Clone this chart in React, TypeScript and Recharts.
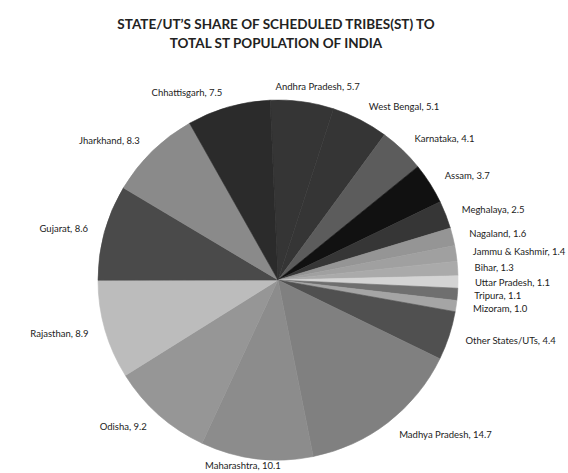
import React from "react"
import { PieChart, Pie, Cell } from "recharts"

const states = [
  "Andhra Pradesh",
  "West Bengal",
  "Karnataka",
  "Assam",
  "Meghalaya",
  "Nagaland",
  "Jammu & Kashmir",
  "Bihar",
  "Uttar Pradesh",
  "Tripura",
  "Mizoram",
  "Other States/UTs",
  "Madhya Pradesh",
  "Maharashtra",
  "Odisha",
  "Rajasthan",
  "Gujarat",
  "Jharkhand",
  "Chhattisgarh",
]

const shares = [5.7, 5.1, 4.1, 3.7, 2.5, 1.6, 1.4, 1.3, 1.1, 1.1, 1.0, 4.4, 14.7, 10.1, 9.2, 8.9, 8.6, 8.3, 7.5]

const shades = [
  "#353535", "#353535", "#5c5c5c", "#111111", "#363636", "#959595", "#a0a0a0", "#aaaaaa", "#d4d4d4",
  "#6f6f6f", "#a5a5a5", "#505050", "#808080", "#8c8c8c", "#969696", "#bcbcbc", "#4a4a4a", "#8a8a8a",
  "#2b2b2b",
]

const data = states.map((name, i) => ({ name, value: shares[i] }))

const RAD = Math.PI / 180
const FONT = "Lato, 'Open Sans', sans-serif"

// label placed just outside the rim, anchored away from the pie
function renderLabel(props: any) {
  const { cx, cy, midAngle, outerRadius, name, value } = props
  const r = outerRadius + 15
  const cos = Math.cos(-midAngle * RAD)
  const sin = Math.sin(-midAngle * RAD)
  let x = cx + r * cos
  let y = cy + r * sin
  let anchor: "start" | "end" | "middle" = cos > 0 ? "start" : "end"
  if (Math.abs(cos) < 0.2) {
    anchor = "middle"
    x += cos * 100
    if (sin > 0) y -= 8
  } else {
    x += cos > 0 ? 2 : -2
  }
  return (
    <text
      x={x}
      y={y}
      textAnchor={anchor}
      dominantBaseline="central"
      fontSize={9.5}
      fontFamily={FONT}
      fill="#222"
    >
      {`${name}, ${value.toFixed(1)}`}
    </text>
  )
}

export default function App() {
  return (
    <div style={{ position: "relative", width: 568, height: 473, background: "#fff", overflow: "hidden" }}>
      <style>{`body{margin:0}`}</style>
      <div
        style={{
          position: "absolute",
          top: 15,
          left: 0,
          width: 552,
          textAlign: "center",
          fontFamily: FONT,
          fontWeight: 700,
          fontSize: 13.5,
          lineHeight: "19px",
          color: "#222",
        }}
      >
        STATE/UT’S SHARE OF SCHEDULED TRIBES(ST) TO
        <br />
        TOTAL ST POPULATION OF INDIA
      </div>
      <PieChart width={568} height={473} style={{ position: "absolute", top: 0, left: 0 }}>
        <Pie
          data={data}
          dataKey="value"
          nameKey="name"
          cx={273}
          cy={275}
          outerRadius={180}
          startAngle={92.5}
          endAngle={-267.5}
          label={renderLabel}
          labelLine={false}
          isAnimationActive={false}
        >
          {data.map((d, i) => (
            <Cell key={d.name} fill={shades[i]} stroke={shades[i]} strokeWidth={0.6} />
          ))}
        </Pie>
      </PieChart>
    </div>
  )
}
